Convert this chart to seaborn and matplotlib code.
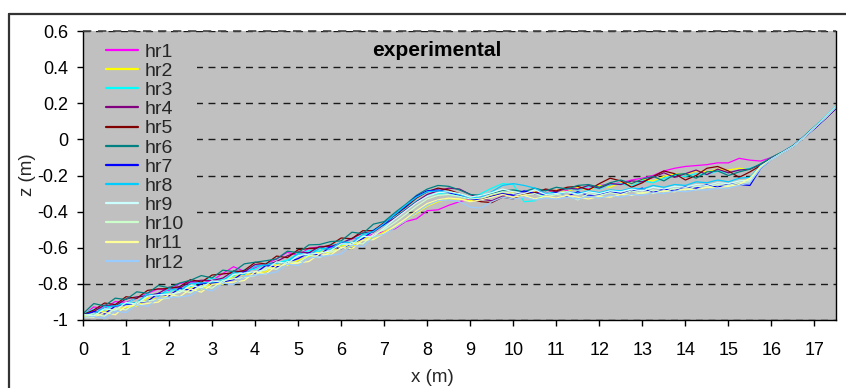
import numpy as np
import pandas as pd
import matplotlib
matplotlib.use("Agg")
import matplotlib.pyplot as plt
import seaborn as sns
from matplotlib.patches import Rectangle
from matplotlib.lines import Line2D

# Cross-shore positions of the profile survey (m)
x_m = np.linspace(0.0, 17.5, 71)

# Bed elevation z (m) for each hourly survey
hr1 = [-0.975, -0.928, -0.937, -0.898, -0.902, -0.880, -0.852, -0.828, -0.837, -0.798,
       -0.790, -0.795, -0.782, -0.743, -0.705, -0.730, -0.712, -0.690, -0.662, -0.625,
       -0.642, -0.603, -0.595, -0.598, -0.578, -0.550, -0.545, -0.525, -0.510, -0.495,
       -0.455, -0.440, -0.395, -0.390, -0.365, -0.345, -0.330, -0.320, -0.310, -0.300,
       -0.295, -0.305, -0.290, -0.300, -0.280, -0.285, -0.265, -0.275, -0.255, -0.250,
       -0.240, -0.225, -0.215, -0.200, -0.175, -0.160, -0.150, -0.145, -0.140, -0.130,
       -0.130, -0.105, -0.115, -0.120, -0.100, -0.070, -0.035, 0.015, 0.065, 0.120, 0.180]
hr2 = [-0.980, -0.978, -0.947, -0.940, -0.930, -0.923, -0.877, -0.888, -0.862, -0.840,
       -0.817, -0.833, -0.792, -0.803, -0.757, -0.748, -0.740, -0.733, -0.687, -0.698,
       -0.670, -0.648, -0.622, -0.628, -0.587, -0.593, -0.547, -0.548, -0.512, -0.485,
       -0.450, -0.410, -0.370, -0.345, -0.330, -0.330, -0.340, -0.330, -0.310, -0.300,
       -0.295, -0.310, -0.290, -0.305, -0.280, -0.290, -0.265, -0.280, -0.255, -0.265,
       -0.240, -0.245, -0.220, -0.230, -0.205, -0.190, -0.195, -0.175, -0.180, -0.165,
       -0.170, -0.160, -0.165, -0.140, -0.105, -0.070, -0.040, 0.010, 0.065, 0.120, 0.180]
hr3 = [-0.965, -0.940, -0.945, -0.910, -0.910, -0.875, -0.860, -0.858, -0.845, -0.810,
       -0.815, -0.785, -0.770, -0.778, -0.755, -0.720, -0.720, -0.685, -0.685, -0.668,
       -0.636, -0.615, -0.620, -0.580, -0.585, -0.545, -0.545, -0.500, -0.475, -0.430,
       -0.385, -0.340, -0.310, -0.300, -0.305, -0.315, -0.330, -0.300, -0.270, -0.245,
       -0.250, -0.345, -0.340, -0.300, -0.290, -0.270, -0.280, -0.260, -0.275, -0.250,
       -0.245, -0.260, -0.230, -0.240, -0.215, -0.200, -0.205, -0.190, -0.195, -0.175,
       -0.185, -0.170, -0.160, -0.140, -0.105, -0.070, -0.035, 0.015, 0.070, 0.125, 0.185]
hr4 = [-0.975, -0.953, -0.918, -0.923, -0.883, -0.872, -0.866, -0.853, -0.818, -0.823,
       -0.788, -0.780, -0.782, -0.768, -0.728, -0.733, -0.693, -0.698, -0.676, -0.645,
       -0.623, -0.628, -0.593, -0.593, -0.575, -0.548, -0.518, -0.513, -0.470, -0.435,
       -0.390, -0.345, -0.305, -0.285, -0.270, -0.275, -0.305, -0.330, -0.340, -0.315,
       -0.300, -0.290, -0.300, -0.280, -0.290, -0.270, -0.275, -0.255, -0.270, -0.245,
       -0.250, -0.230, -0.235, -0.210, -0.185, -0.210, -0.190, -0.170, -0.195, -0.165,
       -0.185, -0.170, -0.165, -0.140, -0.105, -0.075, -0.040, 0.010, 0.060, 0.115, 0.170]
hr5 = [-0.970, -0.945, -0.906, -0.915, -0.871, -0.880, -0.836, -0.828, -0.826, -0.815,
       -0.776, -0.790, -0.751, -0.745, -0.738, -0.725, -0.681, -0.690, -0.646, -0.655,
       -0.611, -0.604, -0.600, -0.585, -0.546, -0.550, -0.506, -0.505, -0.460, -0.420,
       -0.375, -0.325, -0.290, -0.270, -0.280, -0.300, -0.330, -0.345, -0.350, -0.320,
       -0.330, -0.300, -0.295, -0.275, -0.285, -0.265, -0.260, -0.280, -0.245, -0.215,
       -0.230, -0.265, -0.240, -0.205, -0.175, -0.190, -0.225, -0.200, -0.160, -0.150,
       -0.175, -0.210, -0.180, -0.145, -0.105, -0.075, -0.040, 0.010, 0.065, 0.115, 0.175]
hr6 = [-0.965, -0.909, -0.922, -0.879, -0.887, -0.844, -0.852, -0.809, -0.822, -0.795,
       -0.780, -0.754, -0.767, -0.724, -0.732, -0.689, -0.680, -0.672, -0.662, -0.619,
       -0.627, -0.584, -0.582, -0.566, -0.562, -0.514, -0.522, -0.469, -0.455, -0.405,
       -0.360, -0.310, -0.275, -0.255, -0.260, -0.280, -0.305, -0.310, -0.300, -0.285,
       -0.280, -0.290, -0.270, -0.285, -0.265, -0.275, -0.255, -0.250, -0.265, -0.240,
       -0.225, -0.245, -0.220, -0.205, -0.230, -0.195, -0.190, -0.215, -0.180, -0.175,
       -0.200, -0.180, -0.165, -0.135, -0.100, -0.070, -0.035, 0.015, 0.070, 0.120, 0.175]
hr7 = [-0.975, -0.953, -0.966, -0.923, -0.915, -0.905, -0.896, -0.853, -0.866, -0.823,
       -0.836, -0.798, -0.795, -0.790, -0.776, -0.733, -0.741, -0.698, -0.706, -0.680,
       -0.660, -0.628, -0.641, -0.593, -0.606, -0.575, -0.550, -0.505, -0.470, -0.415,
       -0.370, -0.315, -0.285, -0.280, -0.295, -0.310, -0.330, -0.335, -0.315, -0.300,
       -0.310, -0.285, -0.300, -0.305, -0.295, -0.315, -0.290, -0.310, -0.305, -0.290,
       -0.300, -0.285, -0.270, -0.295, -0.275, -0.285, -0.260, -0.270, -0.250, -0.265,
       -0.245, -0.250, -0.255, -0.160, -0.110, -0.075, -0.040, 0.010, 0.060, 0.115, 0.175]
hr8 = [-0.970, -0.968, -0.927, -0.922, -0.910, -0.903, -0.857, -0.868, -0.827, -0.838,
       -0.797, -0.795, -0.790, -0.783, -0.737, -0.748, -0.702, -0.696, -0.685, -0.678,
       -0.632, -0.643, -0.602, -0.608, -0.567, -0.573, -0.527, -0.510, -0.465, -0.415,
       -0.365, -0.320, -0.290, -0.285, -0.290, -0.305, -0.325, -0.320, -0.290, -0.255,
       -0.245, -0.255, -0.270, -0.300, -0.305, -0.290, -0.300, -0.285, -0.295, -0.280,
       -0.285, -0.270, -0.275, -0.255, -0.265, -0.250, -0.255, -0.235, -0.240, -0.225,
       -0.235, -0.215, -0.210, -0.145, -0.110, -0.075, -0.040, 0.010, 0.065, 0.120, 0.180]
hr9 = [-0.970, -0.977, -0.938, -0.947, -0.903, -0.912, -0.868, -0.860, -0.858, -0.847,
       -0.808, -0.822, -0.783, -0.792, -0.748, -0.740, -0.733, -0.722, -0.678, -0.687,
       -0.643, -0.635, -0.630, -0.617, -0.578, -0.582, -0.538, -0.537, -0.490, -0.440,
       -0.395, -0.350, -0.315, -0.295, -0.290, -0.300, -0.320, -0.310, -0.295, -0.275,
       -0.290, -0.300, -0.280, -0.305, -0.300, -0.290, -0.305, -0.290, -0.300, -0.285,
       -0.290, -0.275, -0.285, -0.265, -0.275, -0.260, -0.265, -0.250, -0.255, -0.240,
       -0.245, -0.230, -0.225, -0.150, -0.110, -0.075, -0.040, 0.010, 0.065, 0.120, 0.180]
hr10 = [-0.975, -0.966, -0.979, -0.936, -0.944, -0.901, -0.895, -0.885, -0.879, -0.836,
        -0.849, -0.811, -0.824, -0.781, -0.772, -0.765, -0.754, -0.711, -0.719, -0.676,
        -0.684, -0.641, -0.654, -0.625, -0.605, -0.571, -0.579, -0.526, -0.500, -0.460,
        -0.415, -0.370, -0.330, -0.310, -0.305, -0.315, -0.330, -0.325, -0.305, -0.290,
        -0.300, -0.310, -0.300, -0.320, -0.305, -0.310, -0.335, -0.300, -0.310, -0.295,
        -0.305, -0.285, -0.300, -0.280, -0.290, -0.270, -0.280, -0.260, -0.265, -0.250,
        -0.255, -0.240, -0.235, -0.155, -0.110, -0.075, -0.040, 0.010, 0.065, 0.120, 0.180]
hr11 = [-0.985, -0.985, -0.958, -0.971, -0.923, -0.918, -0.908, -0.901, -0.858, -0.871,
        -0.828, -0.846, -0.803, -0.798, -0.790, -0.781, -0.733, -0.746, -0.698, -0.693,
        -0.684, -0.676, -0.633, -0.641, -0.598, -0.606, -0.558, -0.555, -0.520, -0.480,
        -0.440, -0.395, -0.355, -0.335, -0.325, -0.330, -0.345, -0.335, -0.320, -0.305,
        -0.320, -0.310, -0.330, -0.315, -0.325, -0.310, -0.320, -0.330, -0.315, -0.320,
        -0.305, -0.310, -0.295, -0.300, -0.285, -0.290, -0.275, -0.280, -0.265, -0.270,
        -0.260, -0.250, -0.215, -0.150, -0.110, -0.075, -0.040, 0.010, 0.065, 0.120, 0.180]
hr12 = [-0.985, -0.981, -0.990, -0.951, -0.959, -0.916, -0.924, -0.881, -0.876, -0.872,
        -0.864, -0.826, -0.839, -0.796, -0.804, -0.761, -0.752, -0.745, -0.734, -0.691,
        -0.699, -0.656, -0.650, -0.642, -0.634, -0.586, -0.594, -0.541, -0.525, -0.490,
        -0.450, -0.405, -0.365, -0.340, -0.335, -0.345, -0.375, -0.380, -0.345, -0.320,
        -0.330, -0.320, -0.335, -0.325, -0.330, -0.320, -0.330, -0.315, -0.325, -0.310,
        -0.320, -0.305, -0.310, -0.295, -0.300, -0.285, -0.290, -0.280, -0.280, -0.270,
        -0.270, -0.255, -0.240, -0.160, -0.110, -0.075, -0.040, 0.010, 0.065, 0.120, 0.180]

run_names = ["hr1", "hr2", "hr3", "hr4", "hr5", "hr6",
             "hr7", "hr8", "hr9", "hr10", "hr11", "hr12"]
run_profiles = [hr1, hr2, hr3, hr4, hr5, hr6, hr7, hr8, hr9, hr10, hr11, hr12]
run_colors = ["#FF00FF", "#FFFF00", "#00FFFF", "#800080", "#800000", "#008080",
              "#0000FF", "#00CCFF", "#CCFFFF", "#CCFFCC", "#FFFF99", "#99CCFF"]

y_ticks = [-1.0, -0.8, -0.6, -0.4, -0.2, 0.0, 0.2, 0.4, 0.6]
y_tick_labels = ["-1", "-0.8", "-0.6", "-0.4", "-0.2", "0", "0.2", "0.4", "0.6"]
x_ticks = list(range(18))

df = pd.DataFrame({
    "x": np.tile(x_m, len(run_names)),
    "z": np.concatenate([np.asarray(p) for p in run_profiles]),
    "run": np.repeat(run_names, len(x_m)),
})

sns.set_style("ticks")
plt.rcParams["font.family"] = ["Liberation Sans", "DejaVu Sans"]

W, H = 846, 388
fig = plt.figure(figsize=(W / 100, H / 100), dpi=100)
ax = fig.add_axes([83 / W, 1 - 320 / H, (836 - 83) / W, (320 - 31) / H])
ax.set_facecolor("#C0C0C0")

sns.lineplot(data=df, x="x", y="z", hue="run", hue_order=run_names,
             palette=dict(zip(run_names, run_colors)), estimator=None,
             sort=False, lw=0.9, ax=ax)

ax.set_xlim(0, 17.5)
ax.set_ylim(-1.0, 0.6)
ax.set_xticks(x_ticks)
ax.set_xticklabels([str(t) for t in x_ticks])
ax.set_yticks(y_ticks)
ax.set_yticklabels(y_tick_labels)
ax.tick_params(axis="both", direction="out", length=4.5, width=1.0,
               color="black", labelcolor="black", labelsize=13)
ax.tick_params(axis="x", pad=11)
ax.tick_params(axis="y", pad=6)

# dashed horizontal gridlines
ax.set_axisbelow(True)
ax.grid(axis="y", color="#1a1a1a", lw=1.0, linestyle=(0, (5, 4)))
ax.grid(axis="x", visible=False)
ax.axhline(0.6, color="#444444", lw=1.2, linestyle=(0, (5, 4)), clip_on=False, zorder=3)

for side in ("left", "bottom", "right"):
    ax.spines[side].set_color("black")
    ax.spines[side].set_linewidth(1.0)
ax.spines["top"].set_visible(False)

ax.set_xlabel("")
ax.set_ylabel("")

# legend panel background
ax.add_patch(Rectangle((0.0, -0.70), 2.65, 1.29, facecolor="#C0C0C0",
                       edgecolor="none", zorder=1))

handles, labels = ax.get_legend_handles_labels()
leg = ax.legend(handles, labels, loc="upper left", bbox_to_anchor=(0.031, 0.958),
                frameon=False, fontsize=14, handlelength=1.65, handletextpad=0.3,
                labelspacing=0.08, borderpad=0.0, borderaxespad=0.0)
for h in leg.get_lines():
    h.set_linewidth(1.6)

ax.text(8.23, 0.49, "experimental", fontsize=15, fontweight="bold",
        ha="center", va="center", color="black")

fig.text(432 / W, 1 - 377 / H, "x (m)", fontsize=13.5, ha="center", va="center")
fig.text(28 / W, 1 - 175 / H, "z (m)", fontsize=13.5, ha="center", va="center",
         rotation=90)

# outer chart frame
fig.add_artist(Line2D([8.5 / W, 8.5 / W], [0, 1 - 14 / H], color="#333333", lw=1.6))
fig.add_artist(Line2D([8.5 / W, 1.0], [1 - 14 / H, 1 - 14 / H], color="#333333", lw=1.6))

fig.savefig("out.png", dpi=100, facecolor="white")
